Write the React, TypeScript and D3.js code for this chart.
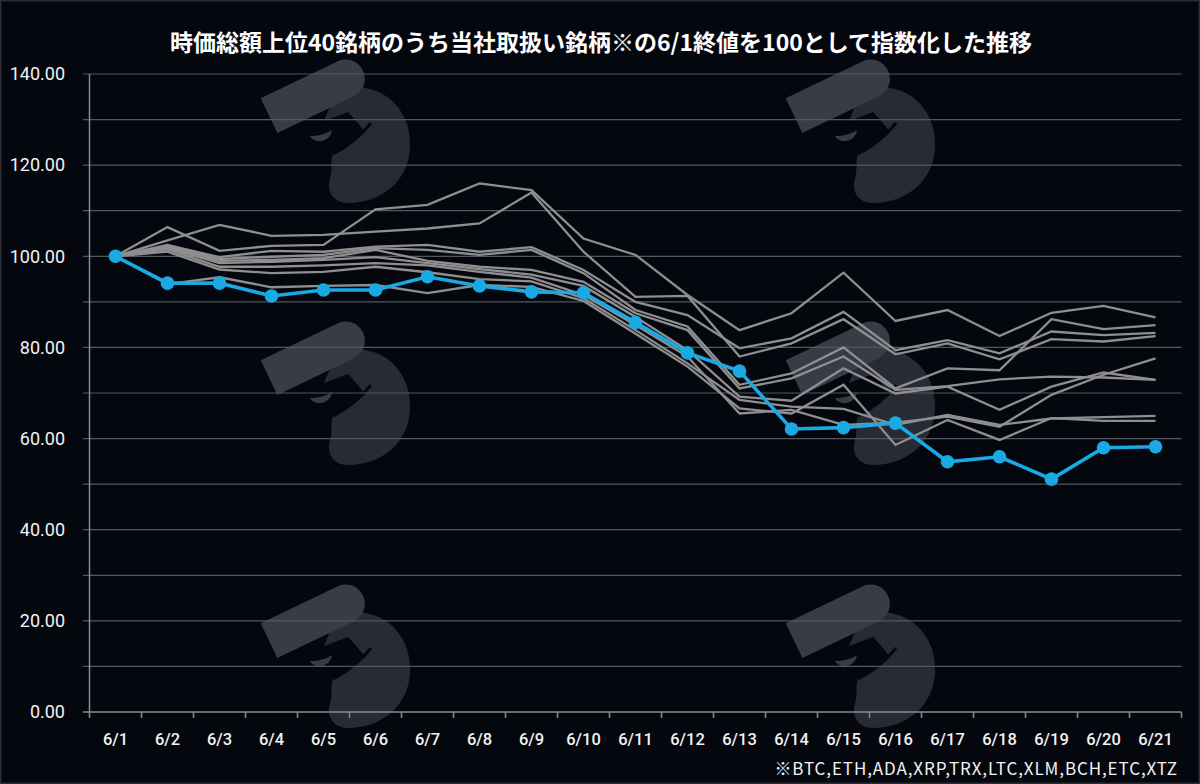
import React from "react";
import * as d3 from "d3";

const dates = ["6/1","6/2","6/3","6/4","6/5","6/6","6/7","6/8","6/9","6/10","6/11","6/12","6/13","6/14","6/15","6/16","6/17","6/18","6/19","6/20","6/21"];

const blueSeries = [100, 94.1, 94.1, 91.3, 92.6, 92.6, 95.5, 93.5, 92.2, 92.0, 85.5, 78.8, 74.8, 62.1, 62.4, 63.4, 54.9, 56.0, 51.1, 58.0, 58.2];

const grayA = [100, 106.4, 101.2, 102.3, 102.5, 110.3, 111.3, 116.0, 114.5, 103.9, 100.3, 91.5, 83.8, 87.5, 96.4, 85.8, 88.2, 82.5, 87.6, 89.1, 86.6];
const grayB = [100, 102.5, 99.8, 101.2, 101.0, 102.1, 102.5, 101.0, 102.0, 97.0, 90.0, 87.1, 79.8, 82.0, 87.8, 79.4, 81.6, 78.7, 83.5, 82.7, 83.2];
const grayC = [100, 103.5, 106.9, 104.5, 104.7, 105.4, 106.1, 107.2, 114.0, 101.0, 91.1, 91.3, 78.0, 80.9, 86.2, 78.5, 80.9, 77.4, 81.8, 81.3, 82.5];
const grayD = [100, 102.3, 99.4, 99.9, 100.3, 101.8, 101.4, 100.3, 101.4, 96.3, 88.2, 84.6, 71.8, 74.3, 80.0, 71.0, 75.4, 75.0, 86.2, 84.0, 84.9];
const grayE = [100, 102.0, 99.0, 99.2, 99.6, 101.4, 99.0, 97.7, 97.0, 94.4, 87.5, 83.8, 71.0, 73.2, 78.0, 70.7, 71.5, 73.0, 73.6, 73.4, 72.9];
const grayF = [100, 101.8, 98.5, 98.8, 99.2, 99.8, 98.5, 97.2, 96.0, 93.5, 86.7, 79.4, 69.2, 68.3, 75.4, 69.9, 71.4, 66.3, 71.4, 74.5, 72.9];
const grayG = [100, 101.5, 97.7, 97.7, 98.0, 98.5, 98.0, 96.6, 95.3, 91.5, 84.9, 78.0, 65.5, 66.3, 63.0, 63.5, 64.8, 62.6, 69.6, 74.0, 77.6];
const grayH = [100, 101.0, 97.1, 96.3, 96.6, 97.7, 96.5, 95.0, 94.5, 90.8, 83.8, 76.5, 68.5, 67.0, 66.5, 63.0, 65.2, 63.0, 64.4, 64.7, 65.0];
const grayI = [100, 93.9, 95.4, 93.2, 93.5, 93.7, 91.9, 93.7, 93.3, 90.2, 83.0, 75.8, 66.6, 65.5, 71.8, 58.6, 64.1, 59.7, 64.5, 63.9, 63.9];

const graySeries = [grayA, grayB, grayC, grayD, grayE, grayF, grayG, grayH, grayI];

const yGridValues = [0, 10, 20, 30, 40, 50, 60, 70, 80, 90, 100, 110, 120, 130, 140];
const yLabelValues = [0, 20, 40, 60, 80, 100, 120, 140];

const titleText = "時価総額上位40銘柄のうち当社取扱い銘柄※の6/1終値を100として指数化した推移";
const footnoteText = "※BTC,ETH,ADA,XRP,TRX,LTC,XLM,BCH,ETC,XTZ";

const watermarkSpots: [number, number][] = [
  [260, 60], [785, 60],
  [260, 322], [785, 322],
  [260, 585], [785, 585],
];

const W = 1200;
const H = 784;
const BG = "#05070f";

function Watermark({ x, y }: { x: number; y: number }) {
  return (
    <g transform={`translate(${x},${y})`}>
      {/* head */}
      <path
        d="M78,28 C122,20 152,48 150,88 C148,122 121,143 88,143 C73,143 66,131 70,119 C73,109 70,101 73,94 C66,86 62,78 60,70 Z"
        fill="#282b35"
      />
      {/* flag */}
      <g transform="translate(0.7,38.3) rotate(-25.7)">
        <path d="M0,0 H85 A19.25,19.25 0 0 1 85,38.5 H0 Z" fill="#393c47" />
      </g>
      {/* dark face cut */}
      <path d="M40,70 L88,52 C96,60 100,66 104,70 C94,80 84,88 73,94 C64,86 52,78 40,70 Z" fill={BG} />
      {/* eye */}
      <path d="M50,76 C58,76 66,74 72,70 C71,78 64,82 57,81 C53,80 51,78 50,76 Z" fill="#383b46" />
      {/* mouth line */}
      <path d="M73,94 C88,86 101,76 111,63" fill="none" stroke={BG} strokeWidth={3} />
    </g>
  );
}

export default function App() {
  const x = d3.scaleBand<string>().domain(dates).range([89.5, 1181.5]).padding(0);
  const bw = x.bandwidth();
  const cx = (d: string) => (x(d) as number) + bw / 2;
  const y = d3.scaleLinear().domain([0, 140]).range([712, 74]);

  const line = d3
    .line<number>()
    .x((_, i) => cx(dates[i]))
    .y((v) => y(v));

  const tickXs = d3.range(dates.length + 1).map((i) => 89.5 + i * bw);

  return (
    <svg
      width={W}
      height={H}
      viewBox={`0 0 ${W} ${H}`}
      style={{ position: "absolute", left: 0, top: 0, display: "block" }}
    >
      <rect x={0} y={0} width={W} height={H} fill={BG} />
      <rect x={0.75} y={0.75} width={W - 1.5} height={H - 1.5} fill="none" stroke="#2a2c34" strokeWidth={1.5} />

      {watermarkSpots.map(([wx, wy], i) => (
        <Watermark key={i} x={wx} y={wy} />
      ))}

      {/* grid */}
      {yGridValues.map((v) => (
        <line
          key={v}
          x1={83}
          x2={1181.5}
          y1={y(v)}
          y2={y(v)}
          stroke={v === 0 ? "#8a8a8e" : "#55575e"}
          strokeWidth={v === 0 ? 1.5 : 1.2}
        />
      ))}
      <line x1={89.5} x2={89.5} y1={y(140)} y2={y(0)} stroke="#8a8a8e" strokeWidth={1.5} />
      {tickXs.map((tx, i) => (
        <line key={i} x1={tx} x2={tx} y1={y(0)} y2={y(0) + 6} stroke="#8a8a8e" strokeWidth={1.5} />
      ))}

      {/* y labels */}
      {yLabelValues.map((v) => (
        <text
          key={v}
          x={65}
          y={y(v)}
          dy="0.35em"
          textAnchor="end"
          fill="#f2f2f2"
          fontSize={18}
          fontFamily="Roboto, 'Noto Sans', sans-serif"
        >
          {v.toFixed(2)}
        </text>
      ))}

      {/* x labels */}
      {dates.map((d) => (
        <text
          key={d}
          x={cx(d)}
          y={745}
          textAnchor="middle"
          fill="#f2f2f2"
          fontSize={16.5}
          fontWeight={500}
          fontFamily="Roboto, 'Noto Sans', sans-serif"
        >
          {d}
        </text>
      ))}

      {/* gray series */}
      {graySeries.map((s, i) => (
        <path
          key={i}
          d={line(s) || ""}
          fill="none"
          stroke="#8f8f8f"
          strokeWidth={2.3}
          strokeLinejoin="miter"
        />
      ))}

      {/* blue series */}
      <path d={line(blueSeries) || ""} fill="none" stroke="#19a9e3" strokeWidth={3.6} />
      {blueSeries.map((v, i) => (
        <circle key={i} cx={cx(dates[i])} cy={y(v)} r={6.8} fill="#19a9e3" />
      ))}

      {/* title */}
      <text
        x={601}
        y={51}
        textAnchor="middle"
        fill="#ffffff"
        fontSize={23}
        fontWeight={700}
        fontFamily="'Noto Sans CJK JP', 'Noto Sans', sans-serif"
      >
        {titleText}
      </text>

      {/* footnote */}
      <text
        x={1178}
        y={775}
        textAnchor="end"
        fill="#f2f2f2"
        fontSize={17}
        letterSpacing={0.9}
        fontFamily="'Noto Sans CJK JP', Roboto, sans-serif"
      >
        {footnoteText}
      </text>
    </svg>
  );
}
